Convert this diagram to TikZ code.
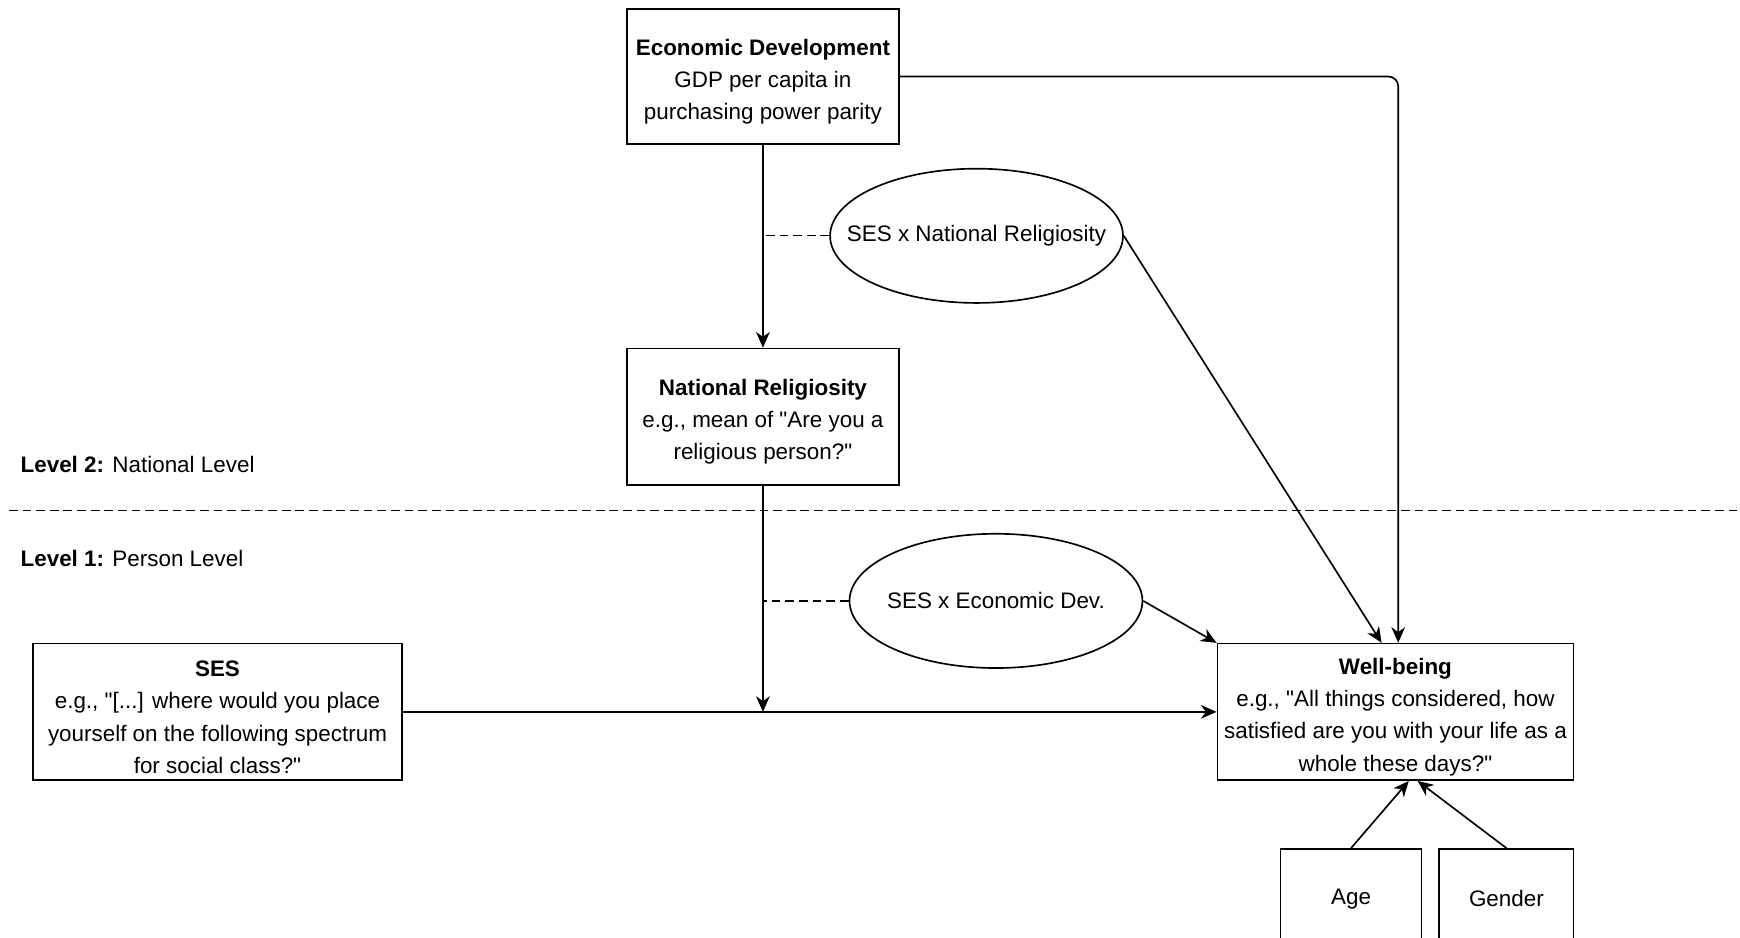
\documentclass[tikz,border=0pt]{standalone}
\usepackage{fontspec}
\setmainfont{Liberation Sans}[Ligatures=TeXOff]
\usetikzlibrary{shapes, calc, arrows.meta, positioning}

\newcommand{\headline}[1]{\rule{0pt}{0.48cm}\textbf{#1}}

\begin{document}
\begin{tikzpicture}[x=0.02cm, y=-0.02cm, line width=0.85pt,
  font=\fontsize{11.5}{16.5}\selectfont,
  >={Stealth[length=8pt,width=7pt,inset=2.5pt]},
  box/.style={draw, rectangle, align=center, inner sep=0pt},
  inter/.style={draw, ellipse, align=center, inner ysep=0pt, inner xsep=-1cm, minimum width=5.28cm, minimum height=2.42cm},
  sep/.style={dash pattern=on 4.5pt off 2.5pt, line width=0.7pt}]

\useasboundingbox (0,0) rectangle (1568,845);
\clip (0,0) rectangle (1568,845);

%% national level

\node[box, minimum width=4.9cm, minimum height=2.44cm] (eco) at (687.5,69) {\headline{Economic Development}\\GDP per capita in\\purchasing power parity};
\node[box, minimum width=4.9cm, minimum height=2.46cm] (rel) at (687.5,375.5) {\headline{National Religiosity}\\e.g., mean of "Are you a\\religious person?"};
\node[inter] (sesrel) at (880,212.5) {SES x National Religiosity};

\node[anchor=west] (lvl2) at (12,419) {\textbf{Level 2:} National Level};
\draw[sep] (8,460) -- (1568,460);
\node[anchor=west] (lvl1) at (12,503) {\textbf{Level 1:} Person Level};

%% person level

\node[inter] (seseco) at (897.5,541.5) {SES x Economic Dev.};
\node[box, minimum width=6.64cm, minimum height=2.46cm] (ses) at (196,641.5) {\headline{SES}\\e.g., "[...] where would you place\\yourself on the following spectrum\\for social class?"};
\node[box, minimum width=6.42cm, minimum height=2.46cm] (well) at (1257.5,641.5) {\headline{Well-being}\\e.g., "All things considered, how\\satisfied are you with your life as a\\whole these days?"};
\node[box, minimum width=2.54cm, minimum height=1.8cm] (age) at (1217.5,810) {Age};
\node[box, minimum width=2.42cm, minimum height=1.8cm] (gender) at (1357.5,810) {Gender};

%% paths

\draw[->] (eco) -- (rel);
\draw[->, rounded corners=5pt] (eco.east) -| ($(well.north)+(2.5,0)$);
\draw[sep] (sesrel.west) -- (sesrel.west -| eco.south);
\draw[->] (sesrel.east) -- ($(well.north)+(-12.5,0)$);
\draw[->] (ses.east) -- (well.west);
\draw[->] (rel.south) -- (rel.south |- ses.east);
\draw[sep] (seseco.west) -- (seseco.west -| rel.south);
\draw[->] (seseco.east) -- (well.north west);
\draw[->] (age.north) -- ($(well.south)+(12,0)$);
\draw[->] (gender.north) -- ($(well.south)+(20,0)$);

\end{tikzpicture}
\end{document}
